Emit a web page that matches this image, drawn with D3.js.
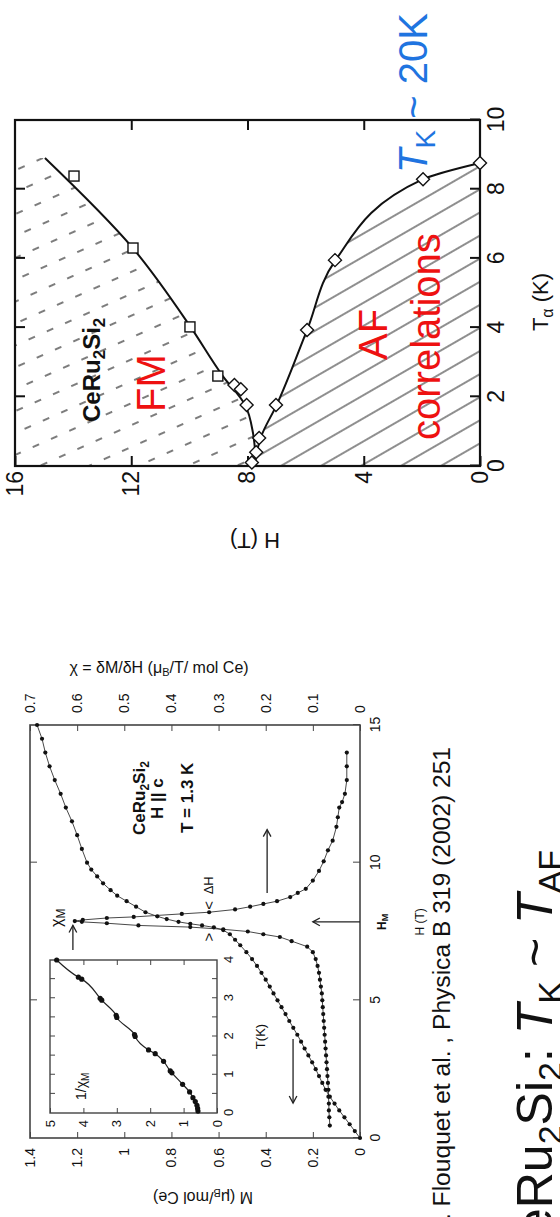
<!DOCTYPE html>
<html><head><meta charset="utf-8">
<script src="https://cdn.jsdelivr.net/npm/d3@7"></script>
<style>
html,body{margin:0;padding:0;background:#fff;}
svg{display:block;font-family:"Liberation Sans",Arial,Helvetica,sans-serif;}
</style></head><body>
<svg id="fig" width="560" height="1217"></svg>
<script>
// ---------- data ----------
// Phase diagram (T_alpha in K, H in T)
const fmSquares  = [[8.38,13.97],[6.30,11.94],[4.02,9.98],[2.60,9.02]];
const fmDiamonds = [[2.34,8.45],[2.22,8.23],[1.76,8.03]];
const afDiamonds = [[8.76,0],[8.29,1.96],[5.95,4.99],[3.93,5.95],[1.76,7.02],[0.81,7.60],[0.40,7.70],[0.10,7.85]];
const fmCurve    = [[0.15,7.72],[0.95,7.81],[1.76,8.08],[2.60,8.85],[4.02,9.96],[6.30,11.95],[8.90,14.97]];
const afCurve    = [[0.15,7.74],[0.81,7.55],[1.76,7.00],[3.93,5.95],[5.95,4.97],[8.29,1.96],[8.76,0]];
const phaseTTicks = [0,2,4,6,8,10];
const phaseHTicks = [0,4,8,12,16];

// Magnetization M (muB/mol Ce) vs H (T) at 1.3 K
const magM = [[0,0],[0.25,0.022],[0.5,0.044],[0.75,0.066],[1,0.088],[1.25,0.108],[1.5,0.128],[1.75,0.146],
  [2,0.16],[2.25,0.174],[2.5,0.188],[2.75,0.203],[3,0.219],[3.25,0.235],[3.5,0.25],[3.75,0.266],[4,0.283],
  [4.25,0.3],[4.5,0.316],[4.75,0.333],[5,0.35],[5.25,0.367],[5.5,0.383],[5.75,0.4],[6,0.418],[6.25,0.437],
  [6.5,0.458],[6.75,0.482],[7,0.508],[7.2,0.53],[7.4,0.552],[7.55,0.58],[7.65,0.62],[7.72,0.67],[7.78,0.72],
  [7.85,0.77],[7.95,0.82],[8.05,0.86],[8.2,0.91],[8.4,0.95],[8.6,0.99],[8.8,1.03],[9,1.058],[9.25,1.09],
  [9.5,1.115],[9.75,1.14],[10,1.158],[10.5,1.18],[11,1.2],[11.5,1.222],[12,1.248],[12.5,1.27],[13,1.295],
  [13.5,1.317],[14,1.335],[14.5,1.349],[15,1.37]];
// Differential susceptibility chi = dM/dH (muB/T/mol Ce)
const magChi = [[0.45,0.064],[0.75,0.065],[1,0.066],[1.25,0.066],[1.5,0.067],[1.75,0.067],[2,0.068],[2.25,0.069],
  [2.5,0.07],[2.75,0.071],[3,0.072],[3.25,0.073],[3.5,0.074],[3.75,0.075],[4,0.076],[4.25,0.077],[4.5,0.078],
  [4.75,0.079],[5,0.08],[5.25,0.081],[5.5,0.083],[5.75,0.085],[6,0.087],[6.25,0.09],[6.5,0.094],[6.75,0.1],
  [6.95,0.112],[7.15,0.145],[7.3,0.17],[7.4,0.205],[7.5,0.238],[7.58,0.29],[7.66,0.36],[7.72,0.47],[7.8,0.537],
  [7.85,0.59],[7.88,0.605],[7.92,0.588],[7.99,0.537],[8.03,0.48],[8.14,0.378],[8.2,0.32],[8.3,0.265],[8.4,0.233],
  [8.5,0.205],[8.6,0.176],[8.75,0.148],[8.9,0.132],[9.05,0.115],[9.35,0.1],[9.7,0.087],[10.05,0.077],[10.45,0.068],
  [10.8,0.058],[11.3,0.05],[11.65,0.047],[12,0.044],[12.2,0.038],[12.5,0.032],[13,0.028],[13.5,0.028],[14,0.028]];
const magHTicks = [0,5,10,15];
const magMTicks = [0,0.2,0.4,0.6,0.8,1,1.2,1.4];
const chiTicks  = [0,0.1,0.2,0.3,0.4,0.5,0.6,0.7];

// Inset: 1/chi_M vs T (K)
const insetInv = [[0.05,0.57],[0.12,0.58],[0.2,0.6],[0.3,0.65],[0.4,0.72],[0.55,0.82],[0.75,1.03],[1.05,1.35],
  [1.1,1.4],[1.35,1.6],[1.55,1.85],[1.65,2.05],[2.0,2.45],[2.05,2.47],[2.5,3.0],[2.55,3.02],[2.95,3.45],
  [3.0,3.5],[3.5,4.05],[3.55,4.15],[4.0,4.8]];
const insetTTicks = [0,1,2,3,4];
const insetTMinor = [0.5,1,1.5,2,2.5,3,3.5];
const insetInvTicks = [0,1,2,3,4,5];

// ---------- drawing ----------
const FONT = '"Liberation Sans",Arial,Helvetica,sans-serif';
const svg = d3.select("#fig");
svg.append("rect").attr("width",560).attr("height",1217).attr("fill","#fff");
const defs = svg.append("defs");
// whole figure is laid out landscape and turned a quarter turn
const root = svg.append("g").attr("transform","translate(0,1217) rotate(-90)");
const fmt = d3.format("~g");

function styleAxis(g, size, color){
  g.attr("font-family",FONT).attr("font-size",size);
  g.select(".domain").remove();
  g.selectAll("line").attr("stroke",color);
  g.selectAll("text").attr("fill","#111");
}

// ===== phase diagram =====
const xP = d3.scaleLinear().domain([0,10]).range([751,1097]);
const yP = d3.scaleLinear().domain([0,16]).range([480,15]);

const pa = defs.append("pattern").attr("id","afHatch").attr("patternUnits","userSpaceOnUse")
  .attr("width",20).attr("height",20).attr("patternTransform","rotate(60)");
pa.append("line").attr("x1",0).attr("x2",20).attr("y1",10).attr("y2",10).attr("stroke","#333").attr("stroke-width",1.1);
const pf = defs.append("pattern").attr("id","fmHatch").attr("patternUnits","userSpaceOnUse")
  .attr("width",20).attr("height",20).attr("patternTransform","rotate(66)");
pf.append("line").attr("x1",3).attr("x2",10).attr("y1",10).attr("y2",10).attr("stroke","#444").attr("stroke-width",1.4);

const P = root.append("g");
const fmArea = d3.area().x(d=>xP(d[0])).y0(yP(16)).y1(d=>yP(d[1])).curve(d3.curveMonotoneX);
const afArea = d3.area().x(d=>xP(d[0])).y0(yP(0)).y1(d=>yP(d[1])).curve(d3.curveMonotoneX);
P.append("path").datum([[0,fmCurve[0][1]], ...fmCurve]).attr("d",fmArea).attr("fill","url(#fmHatch)");
P.append("path").datum([[0,afCurve[0][1]], ...afCurve]).attr("d",afArea).attr("fill","url(#afHatch)");

const pLine = d3.line().x(d=>xP(d[0])).y(d=>yP(d[1])).curve(d3.curveMonotoneX);
P.append("path").datum(fmCurve).attr("d",pLine).attr("fill","none").attr("stroke","#111").attr("stroke-width",2);
P.append("path").datum(afCurve).attr("d",pLine).attr("fill","none").attr("stroke","#111").attr("stroke-width",2);

P.append("rect").attr("x",xP(0)).attr("y",yP(16)).attr("width",xP(10)-xP(0)).attr("height",yP(0)-yP(16))
  .attr("fill","none").attr("stroke","#111").attr("stroke-width",2.2);

P.append("g").attr("transform",`translate(0,${yP(0)})`)
  .call(d3.axisBottom(xP).tickValues(phaseTTicks).tickSizeInner(-10).tickSizeOuter(0).tickPadding(8))
  .call(g=>styleAxis(g,23,"#111")).selectAll("line").attr("stroke-width",2);
P.append("g").attr("transform",`translate(0,${yP(16)})`)
  .call(d3.axisTop(xP).tickValues([2,4,6,8]).tickSizeInner(-10).tickSizeOuter(0).tickFormat(""))
  .call(g=>styleAxis(g,23,"#111")).selectAll("line").attr("stroke-width",2);
P.append("g").attr("transform",`translate(${xP(0)},0)`)
  .call(d3.axisLeft(yP).tickValues(phaseHTicks).tickSizeInner(-10).tickSizeOuter(0).tickPadding(5))
  .call(g=>styleAxis(g,23,"#111")).selectAll("line").attr("stroke-width",2);
P.append("g").attr("transform",`translate(${xP(10)},0)`)
  .call(d3.axisRight(yP).tickValues([4,8,12]).tickSizeInner(-10).tickSizeOuter(0).tickFormat(""))
  .call(g=>styleAxis(g,23,"#111")).selectAll("line").attr("stroke-width",2);

// markers
P.selectAll("rect.sq").data(fmSquares).join("rect").attr("class","sq")
  .attr("x",d=>xP(d[0])-5).attr("y",d=>yP(d[1])-5).attr("width",10).attr("height",10)
  .attr("fill","#fff").attr("stroke","#111").attr("stroke-width",1.4);
const diamond = "M0,-6.5L6.5,0L0,6.5L-6.5,0Z";
P.selectAll("path.dm").data([...fmDiamonds, ...afDiamonds]).join("path").attr("class","dm")
  .attr("d",diamond).attr("transform",d=>`translate(${xP(d[0])},${yP(d[1])})`)
  .attr("fill","#fff").attr("stroke","#111").attr("stroke-width",1.4);

// labels
const t1 = P.append("text").attr("x",795).attr("y",100).attr("font-size",24).attr("font-weight","bold").attr("fill","#111");
t1.append("tspan").text("CeRu");
t1.append("tspan").attr("font-size",17).attr("dy",5).text("2");
t1.append("tspan").attr("dy",-5).text("Si");
t1.append("tspan").attr("font-size",17).attr("dy",5).text("2");
P.append("text").attr("x",805).attr("y",165).attr("font-size",40).attr("fill","#ee1111").text("FM");
P.append("text").attr("x",857).attr("y",387).attr("font-size",40).attr("fill","#ee1111").text("AF");
P.append("text").attr("x",777).attr("y",440).attr("font-size",40).attr("fill","#ee1111").text("correlations");
const tk = P.append("text").attr("x",1044).attr("y",427).attr("font-size",40).attr("fill","#1f74e0");
tk.append("tspan").attr("font-style","italic").text("T");
tk.append("tspan").attr("font-size",28).attr("dy",8).text("K");
tk.append("tspan").attr("dy",-8).text(" ~ 20K");
const ta = P.append("text").attr("x",915).attr("y",548).attr("text-anchor","middle").attr("font-size",22).attr("fill","#111");
ta.append("tspan").text("T");
ta.append("tspan").attr("font-size",16).attr("dy",5).text("α");
ta.append("tspan").attr("dy",-5).text(" (K)");
P.append("text").attr("transform","translate(684,255) rotate(-90)").attr("text-anchor","middle")
  .attr("font-size",22).attr("fill","#111").text("H (T)");

// ===== magnetization panel =====
const xM = d3.scaleLinear().domain([0,15]).range([79,492]);
const yM = d3.scaleLinear().domain([0,1.4]).range([360,30]);
const yC = d3.scaleLinear().domain([0,0.7]).range([360,30]);
const M = root.append("g");

M.append("rect").attr("x",xM(0)).attr("y",yM(1.4)).attr("width",xM(15)-xM(0)).attr("height",yM(0)-yM(1.4))
  .attr("fill","none").attr("stroke","#444").attr("stroke-width",1.6);
M.append("g").attr("transform",`translate(0,${yM(0)})`)
  .call(d3.axisBottom(xM).tickValues(magHTicks).tickSizeInner(-7).tickSizeOuter(0).tickPadding(10).tickFormat(fmt))
  .call(g=>styleAxis(g,14,"#444"));
M.append("g").attr("transform",`translate(0,${yM(1.4)})`)
  .call(d3.axisTop(xM).tickValues([5,10]).tickSizeInner(-7).tickSizeOuter(0).tickFormat(""))
  .call(g=>styleAxis(g,14,"#444"));
M.append("g").attr("transform",`translate(${xM(0)},0)`)
  .call(d3.axisLeft(yM).tickValues(magMTicks).tickSizeInner(-6).tickSizeOuter(0).tickPadding(10).tickFormat(fmt))
  .call(g=>styleAxis(g,14,"#444"));
M.append("g").attr("transform",`translate(${xM(15)},0)`)
  .call(d3.axisRight(yC).tickValues(chiTicks).tickSizeInner(-6).tickSizeOuter(0).tickPadding(12).tickFormat(fmt))
  .call(g=>styleAxis(g,14,"#444"));

const mLine = d3.line().x(d=>xM(d[0])).y(d=>yM(d[1]));
const cLine = d3.line().x(d=>xM(d[0])).y(d=>yC(d[1]));
M.append("path").datum(magM).attr("d",mLine).attr("fill","none").attr("stroke","#333").attr("stroke-width",0.9);
M.append("path").datum(magChi).attr("d",cLine).attr("fill","none").attr("stroke","#333").attr("stroke-width",0.9);
M.selectAll("circle.m").data(magM).join("circle").attr("class","m")
  .attr("cx",d=>xM(d[0])).attr("cy",d=>yM(d[1])).attr("r",2.1).attr("fill","#111");
M.selectAll("circle.c").data(magChi).join("circle").attr("class","c")
  .attr("cx",d=>xM(d[0])).attr("cy",d=>yC(d[1])).attr("r",2.1).attr("fill","#111");

// arrows
function arrow(g, x1,y1,x2,y2){
  g.append("line").attr("x1",x1).attr("y1",y1).attr("x2",x2).attr("y2",y2).attr("stroke","#222").attr("stroke-width",1.3);
  const a = Math.atan2(y2-y1,x2-x1), L=8, W=0.5;
  const p = [[x2-L*Math.cos(a-W),y2-L*Math.sin(a-W)],[x2,y2],[x2-L*Math.cos(a+W),y2-L*Math.sin(a+W)]];
  g.append("path").attr("d",d3.line()(p)).attr("fill","none").attr("stroke","#222").attr("stroke-width",1.3);
}
arrow(M, xM(8.9), yC(0.197), xM(11.2), yC(0.197));
arrow(M, xM(3.6), yM(0.284), xM(1.27), yM(0.284));
arrow(M, xM(7.85), yM(0), xM(7.85), yM(0.2));
arrow(M, xM(6.83), yC(0.609), xM(7.72), yC(0.609));

const lab = M.append("g").attr("font-weight","bold").attr("font-size",17).attr("fill","#111");
const c1 = lab.append("text").attr("x",382).attr("y",145);
c1.append("tspan").text("CeRu"); c1.append("tspan").attr("font-size",12).attr("dy",4).text("2");
c1.append("tspan").attr("dy",-4).text("Si"); c1.append("tspan").attr("font-size",12).attr("dy",4).text("2");
lab.append("text").attr("x",398).attr("y",163).text("H || c");
lab.append("text").attr("x",384).attr("y",193).text("T = 1.3 K");

const cm = M.append("text").attr("x",290).attr("y",62).attr("font-size",16).attr("fill","#111");
cm.append("tspan").text("χ"); cm.append("tspan").attr("font-size",12).attr("dy",3).text("M");
M.append("text").attr("x",xM(7.3)).attr("y",214).attr("text-anchor","middle").attr("font-size",15).attr("fill","#111").text(">");
M.append("text").attr("x",xM(8.45)).attr("y",214).attr("text-anchor","middle").attr("font-size",15).attr("fill","#111").text("<");
M.append("text").attr("x",xM(8.85)).attr("y",213).attr("font-size",13).attr("fill","#111").text("ΔH");
const hm = M.append("text").attr("x",xM(7.85)).attr("y",386).attr("text-anchor","middle").attr("font-size",12).attr("font-weight","bold").attr("fill","#111");
hm.append("tspan").text("H"); hm.append("tspan").attr("font-size",9).attr("dy",2).text("M");
M.append("text").attr("x",xM(7.85)).attr("y",424).attr("text-anchor","middle").attr("font-size",12).attr("fill","#111").text("H (T)");
const ml = M.append("text").attr("transform",`translate(25,${(yM(0)+yM(1.4))/2+8}) rotate(-90)`).attr("text-anchor","middle").attr("font-size",16).attr("fill","#111");
ml.append("tspan").text("M (μ"); ml.append("tspan").attr("font-size",11).attr("dy",3).text("B");
ml.append("tspan").attr("dy",-3).text("/mol Ce)");
const cl = M.append("text").attr("transform",`translate(544,159) rotate(90)`).attr("text-anchor","middle").attr("font-size",16).attr("fill","#111");
cl.append("tspan").text("χ = δM/δH (μ"); cl.append("tspan").attr("font-size",11).attr("dy",3).text("B");
cl.append("tspan").attr("dy",-3).text("/T/ mol Ce)");

// ===== inset =====
const xI = d3.scaleLinear().domain([0,4]).range([104,257]);
const yI = d3.scaleLinear().domain([0,5]).range([217,50]);
const I = M.append("g");
I.append("rect").attr("x",xI(0)).attr("y",yI(5)).attr("width",xI(4)-xI(0)).attr("height",yI(0)-yI(5))
  .attr("fill","#fff").attr("stroke","#444").attr("stroke-width",1.4);
I.append("g").attr("transform",`translate(0,${yI(0)})`)
  .call(d3.axisBottom(xI).tickValues(insetTTicks).tickSizeInner(0).tickSizeOuter(0).tickPadding(7).tickFormat(fmt))
  .call(g=>styleAxis(g,13,"#444"));
I.append("g").attr("transform",`translate(0,${yI(0)})`)
  .call(d3.axisBottom(xI).tickValues(insetTMinor).tickSizeInner(-5).tickSizeOuter(0).tickFormat(""))
  .call(g=>styleAxis(g,13,"#444"));
I.append("g").attr("transform",`translate(0,${yI(5)})`)
  .call(d3.axisTop(xI).tickValues(insetTMinor).tickSizeInner(-5).tickSizeOuter(0).tickFormat(""))
  .call(g=>styleAxis(g,13,"#444"));
I.append("g").attr("transform",`translate(${xI(0)},0)`)
  .call(d3.axisLeft(yI).tickValues(insetInvTicks).tickSizeInner(-5).tickSizeOuter(0).tickPadding(7).tickFormat(fmt))
  .call(g=>styleAxis(g,13,"#444"));
I.append("g").attr("transform",`translate(${xI(4)},0)`)
  .call(d3.axisRight(yI).tickValues([1,2,3,4]).tickSizeInner(-5).tickSizeOuter(0).tickFormat(""))
  .call(g=>styleAxis(g,13,"#444"));
I.append("path").datum(insetInv).attr("d",d3.line().x(d=>xI(d[0])).y(d=>yI(d[1])).curve(d3.curveMonotoneX))
  .attr("fill","none").attr("stroke","#222").attr("stroke-width",1.2);
I.selectAll("circle").data(insetInv).join("circle").attr("cx",d=>xI(d[0])).attr("cy",d=>yI(d[1])).attr("r",2.6).attr("fill","#111");
const il = I.append("text").attr("x",117).attr("y",86).attr("font-size",14).attr("fill","#111");
il.append("tspan").text("1/χ"); il.append("tspan").attr("font-size",10).attr("dy",3).text("M");
I.append("text").attr("x",xI(2)).attr("y",265).attr("text-anchor","middle").attr("font-size",13).attr("fill","#111").text("T(K)");

// ===== captions =====
root.append("text").attr("x",470).attr("y",450).attr("text-anchor","end").attr("font-size",24.6).attr("fill","#111")
  .text("J. Flouquet et al. , Physica B 319 (2002) 251");
const tt = root.append("text").attr("x",367).attr("y",552).attr("text-anchor","end").attr("font-size",50).attr("fill","#111");
tt.append("tspan").text("CeRu"); tt.append("tspan").attr("font-size",34).attr("dy",10).text("2");
tt.append("tspan").attr("dy",-10).text("Si"); tt.append("tspan").attr("font-size",34).attr("dy",10).text("2");
tt.append("tspan").attr("dy",-10).text(": ");
tt.append("tspan").attr("font-style","italic").text("T");
tt.append("tspan").attr("font-size",34).attr("dy",10).text("K");
tt.append("tspan").attr("dy",-10).text(" ~ ");
tt.append("tspan").attr("font-style","italic").text("T");
tt.append("tspan").attr("font-size",34).attr("dy",10).text("AF");
</script>
</body></html>
